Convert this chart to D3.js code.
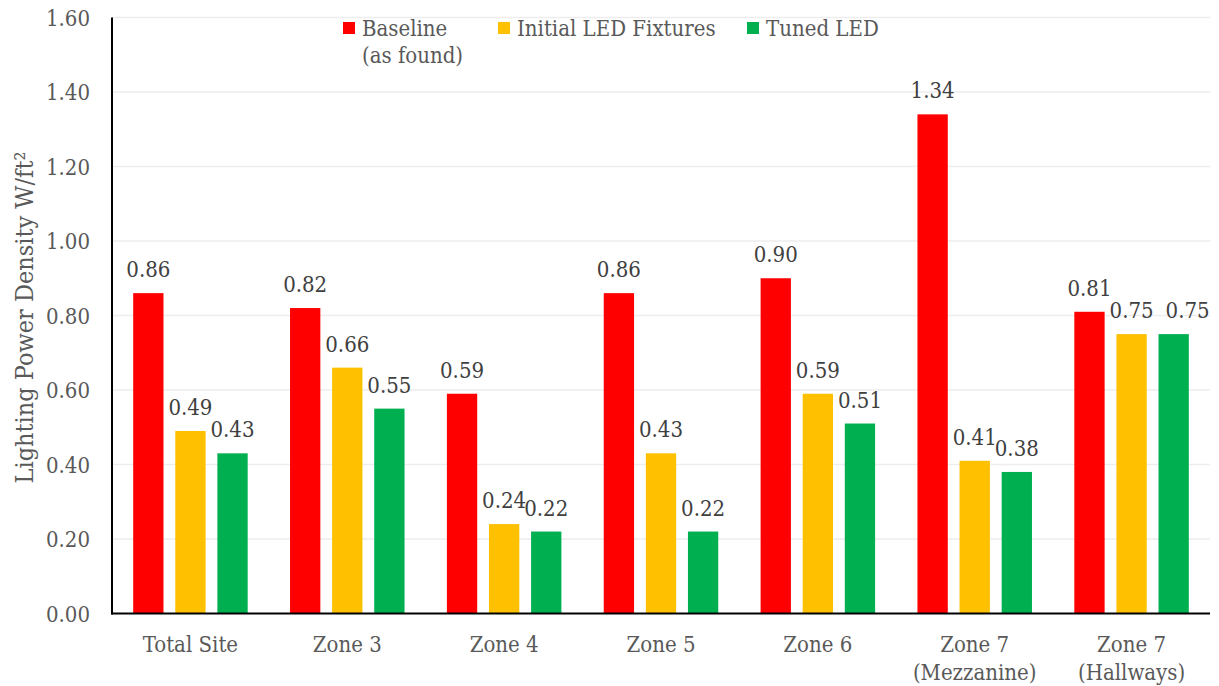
<!DOCTYPE html>
<html>
<head>
<meta charset="utf-8">
<script src="https://cdn.jsdelivr.net/npm/d3@7/dist/d3.min.js"></script>
<style>
  html, body { margin: 0; padding: 0; background: #fff; }
  svg text { font-family: "DejaVu Serif", serif; font-stretch: condensed; }
</style>
</head>
<body>
<svg id="chart" width="1219" height="686"></svg>
<script>
// Lighting power density by zone, three lighting states
const categories = [
  ["Total Site"],
  ["Zone 3"],
  ["Zone 4"],
  ["Zone 5"],
  ["Zone 6"],
  ["Zone 7", "(Mezzanine)"],
  ["Zone 7", "(Hallways)"]
];
const seriesNames = [["Baseline", "(as found)"], ["Initial LED Fixtures"], ["Tuned LED"]];
const seriesColors = ["#FF0000", "#FFC000", "#00B050"];
const baseline = [0.86, 0.82, 0.59, 0.86, 0.90, 1.34, 0.81];
const initialLED = [0.49, 0.66, 0.24, 0.43, 0.59, 0.41, 0.75];
const tunedLED = [0.43, 0.55, 0.22, 0.22, 0.51, 0.38, 0.75];
const yTicks = [0, 0.2, 0.4, 0.6, 0.8, 1.0, 1.2, 1.4, 1.6];

const series = [baseline, initialLED, tunedLED];
const svg = d3.select("#chart");
const margin = { left: 112, right: 9, top: 17.5, bottom: 72.5 };
const W = 1219, H = 686;

const catKeys = categories.map((c, i) => i);
const x0 = d3.scaleBand().domain(catKeys)
  .range([margin.left, W - margin.right])
  .paddingInner(0.27).paddingOuter(0.135);
const x1 = d3.scaleBand().domain([0, 1, 2])
  .range([0, x0.bandwidth()])
  .paddingInner(0.28);
const y = d3.scaleLinear().domain([0, 1.6]).range([H - margin.bottom, margin.top]);
const fmt = d3.format(".2f");

// horizontal gridlines
svg.append("g").selectAll("line").data(yTicks.slice(1)).join("line")
  .attr("x1", margin.left).attr("x2", W - margin.right)
  .attr("y1", d => y(d)).attr("y2", d => y(d))
  .attr("stroke", "#EDEDED").attr("stroke-width", 1.5);

// y axis
const yAxis = d3.axisLeft(y).tickValues(yTicks).tickFormat(fmt).tickSize(0).tickPadding(22);
const gy = svg.append("g").attr("transform", `translate(${margin.left},0)`).call(yAxis);
gy.select(".domain").remove();
gy.selectAll("text").attr("fill", "#595959").style("font-size", "22px").attr("dy", "0.36em");

// bars
const groups = svg.append("g").selectAll("g").data(catKeys).join("g")
  .attr("transform", i => `translate(${x0(i)},0)`);
groups.selectAll("rect").data(i => series.map((s, k) => ({ k, v: s[i] }))).join("rect")
  .attr("x", d => x1(d.k)).attr("width", x1.bandwidth())
  .attr("y", d => y(d.v)).attr("height", d => y(0) - y(d.v))
  .attr("fill", d => seriesColors[d.k]);

// value labels; a label level with the previous one and touching it is moved right
groups.each(function (i) {
  const g = d3.select(this);
  let prevRight = -Infinity, prevY = null;
  series.forEach((s, k) => {
    const v = s[i];
    const cx = x1(k) + x1.bandwidth() / 2;
    const t = g.append("text")
      .attr("x", cx)
      .attr("y", y(v) - 16)
      .attr("text-anchor", "middle")
      .attr("fill", "#404040").style("font-size", "22px")
      .text(fmt(v));
    const w = t.node().getComputedTextLength();
    let left = cx - w / 2;
    if (prevY !== null && Math.abs(prevY - y(v)) < 4 && left < prevRight + 4) {
      left = prevRight + 12;
      t.attr("x", left + w / 2);
    }
    prevRight = left + w;
    prevY = y(v);
  });
});

// axis lines
svg.append("line").attr("x1", margin.left).attr("x2", margin.left)
  .attr("y1", margin.top).attr("y2", y(0) + 1)
  .attr("stroke", "#000").attr("stroke-width", 2);
svg.append("line").attr("x1", margin.left - 1).attr("x2", W - margin.right)
  .attr("y1", y(0)).attr("y2", y(0))
  .attr("stroke", "#000").attr("stroke-width", 2);

// category labels
const cat = svg.append("g").selectAll("text").data(catKeys).join("text")
  .attr("x", i => x0(i) + x0.bandwidth() / 2)
  .attr("y", 652)
  .attr("text-anchor", "middle")
  .attr("fill", "#595959").style("font-size", "22px");
cat.selectAll("tspan").data(i => categories[i]).join("tspan")
  .attr("x", function () { return d3.select(this.parentNode).attr("x"); })
  .attr("dy", (d, j) => j === 0 ? 0 : 28)
  .text(d => d);

// y axis title
svg.append("text")
  .attr("transform", `translate(33,${(y(0) + y(1.6)) / 2 + 2}) rotate(-90)`)
  .attr("text-anchor", "middle")
  .attr("fill", "#595959").style("font-size", "25px")
  .text("Lighting Power Density W/ft²");

// legend
const legendX = [343, 498, 747];
const leg = svg.append("g").selectAll("g").data(seriesNames).join("g")
  .attr("transform", (d, k) => `translate(${legendX[k]},22)`);
leg.append("rect").attr("width", 12).attr("height", 12)
  .attr("fill", (d, k) => seriesColors[k]);
const lt = leg.append("text").attr("x", 19).attr("y", 13.5)
  .attr("fill", "#595959").style("font-size", "22px");
lt.selectAll("tspan").data(d => d).join("tspan")
  .attr("x", 19).attr("dy", (d, j) => j === 0 ? 0 : 27)
  .text(d => d);
</script>
</body>
</html>
